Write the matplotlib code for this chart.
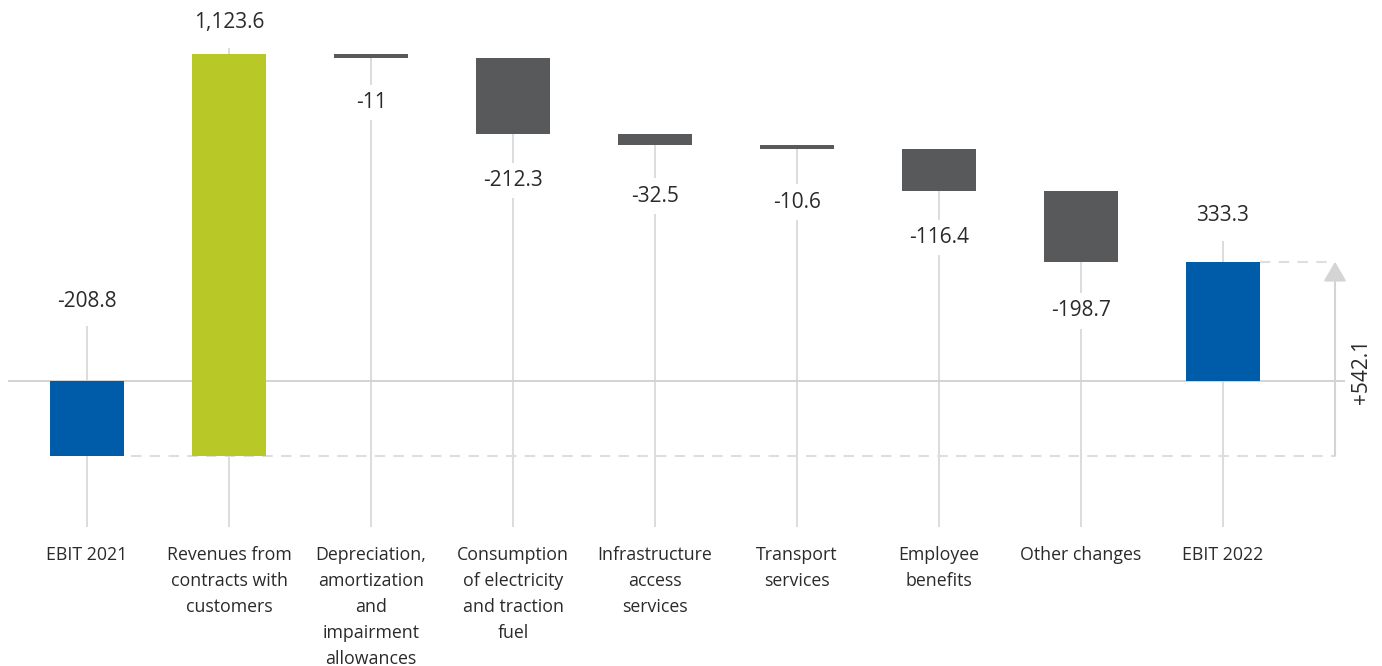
import matplotlib.pyplot as plt

plt.rcParams['font.family'] = ['Open Sans', 'DejaVu Sans']

categories = ['EBIT 2021', 'Revenues from\ncontracts with\ncustomers',
              'Depreciation,\namortization\nand\nimpairment\nallowances',
              'Consumption\nof electricity\nand traction\nfuel',
              'Infrastructure\naccess\nservices', 'Transport\nservices',
              'Employee\nbenefits', 'Other changes', 'EBIT 2022']
ebit_2021 = -208.8
changes = [1123.6, -11, -212.3, -32.5, -10.6, -116.4, -198.7]
ebit_2022 = 333.3

blue = '#005ca9'
green = '#b8c826'
dark = '#58595b'
grid = '#d9d9d9'

# distance of each value label from its bar end, in pixels
label_gap = [83, 34, 42, 44, 48, 50, 44, 46, 49]

# build the waterfall: (bottom, top, value, colour)
bars = [(ebit_2021, 0, ebit_2021, blue)]
level = ebit_2021
for v in changes:
    new = level + v
    bars.append((min(level, new), max(level, new), v, green if v > 0 else dark))
    level = new
bars.append((0, ebit_2022, ebit_2022, blue))

fig = plt.figure(figsize=(13.82, 6.66), dpi=100)
ax = fig.add_axes([0, 0, 1, 1])
ax.set_xlim(-0.613, 9.12)
ax.set_ylim(-796.5, 1065)
ax.axis('off')

px = 0.72  # points per pixel
scale = 0.3578  # pixels per unit
bottom = -408
for i, (lo, hi, v, c) in enumerate(bars):
    positive_label = (i == 0) or v > 0
    if positive_label:
        ly, off = hi, (label_gap[i] - 3) * px
        line_top = hi + (label_gap[i] - 28) / scale
    else:
        ly, off = lo, -(label_gap[i] + 3) * px
        line_top = hi
    # vertical guide line behind bar and label
    ax.vlines(i, bottom, line_top, color=grid, lw=1.3, zorder=1)
    ax.bar(i, hi - lo, bottom=lo, width=0.52, color=c, zorder=3)
    ax.annotate(f'{v:,g}', (i, ly), xytext=(0, off), textcoords='offset points',
                ha='center', va='center', fontsize=15,
                color='#2a2a2a', zorder=4,
                bbox=dict(boxstyle='square,pad=0.35', fc='white', ec='none'))
    ax.text(i, -460, categories[i], ha='center', va='top', fontsize=12.8,
            color='#2a2a2a', linespacing=1.58)

# zero line
ax.hlines(0, -0.556, 8.859, color='#d0d0d0', lw=1.3, zorder=2)

# change between the two years
x_arrow = 8.789
ax.hlines(ebit_2021, 0.31, x_arrow, color='#dedede', lw=1.5, linestyles=(0, (5, 4)), zorder=2)
ax.hlines(ebit_2022, 8.26, x_arrow, color='#dedede', lw=1.5, linestyles=(0, (5, 4)), zorder=2)
ax.annotate('', xy=(x_arrow, ebit_2022), xytext=(x_arrow, ebit_2021),
            arrowprops=dict(arrowstyle='-|>,head_length=1.2,head_width=0.7',
                            color='#d4d4d4', lw=1.5, shrinkA=0, shrinkB=0))
ax.text(8.979, (ebit_2021 + ebit_2022) / 2 - 35, f'+{ebit_2022 - ebit_2021:,.1f}',
        rotation=90, ha='center', va='center', fontsize=15,
        color='#2a2a2a')

fig.savefig('out.png', dpi=100)
